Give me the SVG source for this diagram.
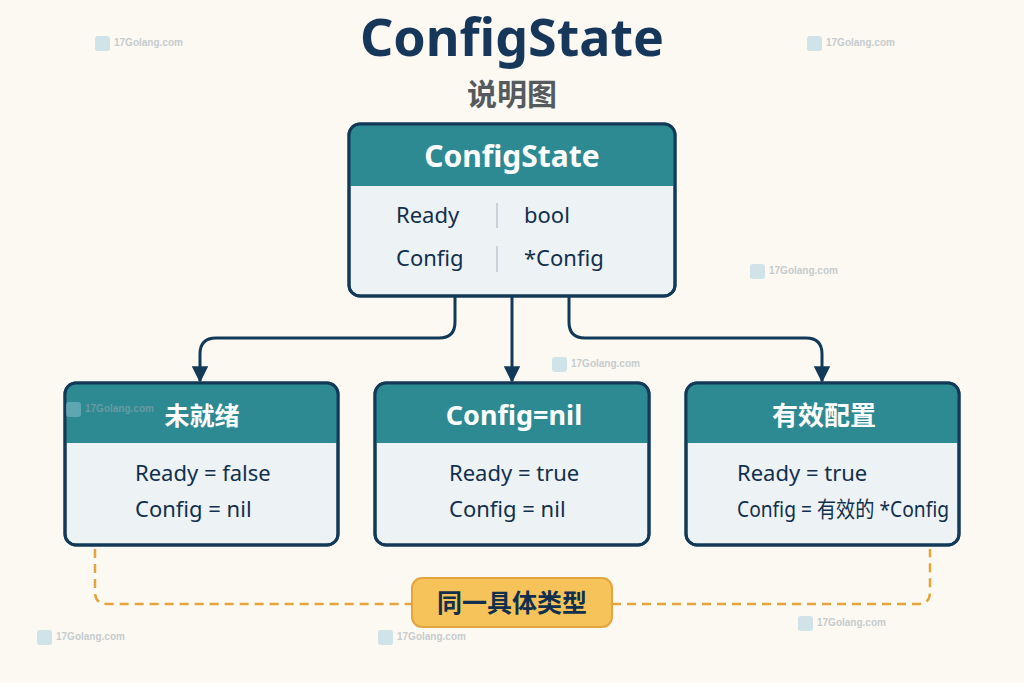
<svg xmlns="http://www.w3.org/2000/svg" width="1024" height="683" viewBox="0 0 1024 683">
<defs>
<style>
.bg{fill:#fcf9f2}
.box{fill:#edf2f4;stroke:#123a58;stroke-width:3}
.hdr{fill:#2e8a92}
.htxt{font-family:"Noto Sans","Noto Sans CJK SC",sans-serif;font-weight:700;fill:#ffffff;text-anchor:middle}
.btxt{font-family:"Noto Sans","Noto Sans CJK SC",sans-serif;font-size:22px;fill:#10304e}
.conn{fill:none;stroke:#123a58;stroke-width:3}
.dash{fill:none;stroke:#e5a53a;stroke-width:2.5;stroke-dasharray:9 6}
.wm{font-family:"Liberation Sans",Arial,sans-serif;font-weight:700;font-size:10px;fill:#9aa6b0;opacity:0.55}
.wmi{fill:#9cc8dc;opacity:0.45}
</style>
<marker id="arr" viewBox="0 0 10 10" refX="9" refY="5" markerWidth="5.5" markerHeight="5.5" orient="auto" markerUnits="strokeWidth">
<path d="M0,0 L10,5 L0,10 z" fill="#123a58"/>
</marker>
<clipPath id="c0"><rect x="349" y="124" width="326" height="172" rx="11"/></clipPath>
<clipPath id="c1"><rect x="65" y="383" width="273" height="162" rx="11"/></clipPath>
<clipPath id="c2"><rect x="375" y="383" width="274" height="162" rx="11"/></clipPath>
<clipPath id="c3"><rect x="686" y="383" width="273" height="162" rx="11"/></clipPath>
</defs>
<rect class="bg" x="0" y="0" width="1024" height="683"/>

<g id="title">
<text x="512" y="56" text-anchor="middle" font-family="'Noto Sans','Noto Sans CJK SC',sans-serif" font-weight="700" font-size="52" fill="#17375a">ConfigState</text>
<text x="512" y="105" text-anchor="middle" font-family="'Noto Sans CJK SC','Noto Sans',sans-serif" font-weight="700" font-size="30" fill="#555a5e">说明图</text>
</g>

<g id="connectors">
<path class="conn" d="M455,296 V322 Q455,338 439,338 H216 Q200,338 200,354 V381" marker-end="url(#arr)"/>
<path class="conn" d="M512,296 V381" marker-end="url(#arr)"/>
<path class="conn" d="M569,296 V322 Q569,338 585,338 H806 Q822,338 822,354 V381" marker-end="url(#arr)"/>
<path class="dash" d="M95,549 V592 Q95,604 107,604 H412"/>
<path class="dash" d="M612,604 H918 Q930,604 930,592 V549"/>
</g>

<g id="node-configstate">
<rect class="box" x="349" y="124" width="326" height="172" rx="11"/>
<rect class="hdr" x="349" y="124" width="326" height="62" clip-path="url(#c0)"/>
<rect x="349" y="124" width="326" height="172" rx="11" fill="none" stroke="#123a58" stroke-width="3"/>
<text class="htxt" x="512" y="167" font-size="30">ConfigState</text>
<text class="btxt" x="396" y="223">Ready</text>
<text class="btxt" x="524" y="223">bool</text>
<text class="btxt" x="396" y="266">Config</text>
<text class="btxt" x="524" y="266">*Config</text>
<line x1="497" y1="203" x2="497" y2="228" stroke="#c9d2d8" stroke-width="2"/>
<line x1="497" y1="246" x2="497" y2="272" stroke="#c9d2d8" stroke-width="2"/>
</g>

<g id="node-notready">
<rect class="box" x="65" y="383" width="273" height="162" rx="11"/>
<rect class="hdr" x="65" y="383" width="273" height="60" clip-path="url(#c1)"/>
<rect x="65" y="383" width="273" height="162" rx="11" fill="none" stroke="#123a58" stroke-width="3"/>
<text class="htxt" x="202" y="425" font-size="25">未就绪</text>
<text class="btxt" x="135" y="481">Ready = false</text>
<text class="btxt" x="135" y="517">Config = nil</text>
</g>

<g id="node-confignil">
<rect class="box" x="375" y="383" width="274" height="162" rx="11"/>
<rect class="hdr" x="375" y="383" width="274" height="60" clip-path="url(#c2)"/>
<rect x="375" y="383" width="274" height="162" rx="11" fill="none" stroke="#123a58" stroke-width="3"/>
<text class="htxt" x="514" y="425" font-size="27">Config=nil</text>
<text class="btxt" x="449" y="481">Ready = true</text>
<text class="btxt" x="449" y="517">Config = nil</text>
</g>

<g id="node-valid">
<rect class="box" x="686" y="383" width="273" height="162" rx="11"/>
<rect class="hdr" x="686" y="383" width="273" height="60" clip-path="url(#c3)"/>
<rect x="686" y="383" width="273" height="162" rx="11" fill="none" stroke="#123a58" stroke-width="3"/>
<text class="htxt" x="824" y="425" font-size="26">有效配置</text>
<text class="btxt" x="737" y="481">Ready = true</text>
<text class="btxt" x="737" y="517" textLength="212" lengthAdjust="spacingAndGlyphs">Config = 有效的 *Config</text>
</g>

<g id="label-sametype">
<rect x="412" y="578" width="200" height="49" rx="10" fill="#f6c35a" stroke="#e3a53c" stroke-width="2"/>
<text x="512" y="612" text-anchor="middle" font-family="'Noto Sans CJK SC','Noto Sans',sans-serif" font-weight="700" font-size="25" fill="#10304e">同一具体类型</text>
</g>

<g id="watermarks">
<rect class="wmi" x="95" y="36" width="15" height="15" rx="3"/><text class="wm" x="114" y="46">17Golang.com</text>
<rect class="wmi" x="807" y="36" width="15" height="15" rx="3"/><text class="wm" x="826" y="46">17Golang.com</text>
<rect class="wmi" x="750" y="264" width="15" height="15" rx="3"/><text class="wm" x="769" y="274">17Golang.com</text>
<rect class="wmi" x="552" y="357" width="15" height="15" rx="3"/><text class="wm" x="571" y="367">17Golang.com</text>
<rect class="wmi" x="66" y="402" width="15" height="15" rx="3"/><text class="wm" x="85" y="412">17Golang.com</text>
<rect class="wmi" x="37" y="630" width="15" height="15" rx="3"/><text class="wm" x="56" y="640">17Golang.com</text>
<rect class="wmi" x="378" y="630" width="15" height="15" rx="3"/><text class="wm" x="397" y="640">17Golang.com</text>
<rect class="wmi" x="798" y="616" width="15" height="15" rx="3"/><text class="wm" x="817" y="626">17Golang.com</text>
</g>
</svg>
